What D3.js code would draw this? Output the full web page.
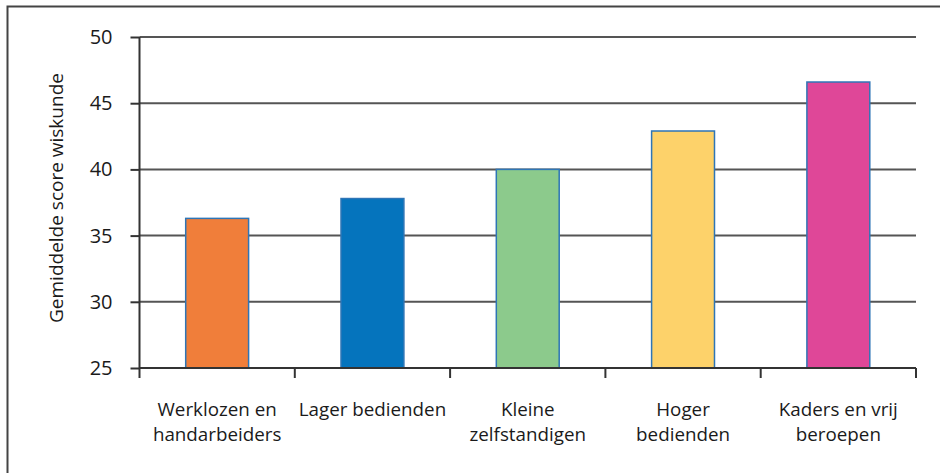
<!DOCTYPE html>
<html><head><meta charset="utf-8">
<script src="https://cdn.jsdelivr.net/npm/d3@7"></script>
<style>
html,body{margin:0;padding:0;background:#fff;}
svg{display:block;}
text{font-family:"Open Sans",sans-serif;fill:#1a1a1a;}
</style></head>
<body>
<svg id="c" width="940" height="473"></svg>
<script>
const categories = [["Werklozen en","handarbeiders"],["Lager bedienden"],["Kleine","zelfstandigen"],["Hoger","bedienden"],["Kaders en vrij","beroepen"]];
const values = [36.3, 37.8, 40.0, 42.9, 46.6];
const colors = ["#F07E3A","#0574BD","#8CCA8C","#FDD26A","#DF4798"];
const yTicks = [25,30,35,40,45,50];
const yLabel = "Gemiddelde score wiskunde";

const svg = d3.select("#c");
const m = {left:139.5, right:916, top:37, bottom:368};
const keys = categories.map(d=>d.join(" "));
const x = d3.scaleBand().domain(keys).range([m.left,m.right]).paddingInner(0.595).paddingOuter(0.2975);
const xt = d3.scaleBand().domain(keys).range([m.left,m.right]);
const y = d3.scaleLinear().domain([25,50]).range([m.bottom,m.top]);

// frame
svg.append("path").attr("d","M7.5,473 V6.5 H940").attr("fill","none").attr("stroke","#444").attr("stroke-width",2);

// gridlines
svg.append("g").selectAll("line").data(yTicks.slice(1)).join("line")
  .attr("x1",m.left).attr("x2",m.right).attr("y1",d=>y(d)).attr("y2",d=>y(d))
  .attr("stroke","#555").attr("stroke-width",2);

// bars
svg.append("g").selectAll("rect").data(values).join("rect")
  .attr("x",(d,i)=>x(keys[i])).attr("width",x.bandwidth())
  .attr("y",d=>y(d)).attr("height",d=>y(25)-y(d))
  .attr("fill",(d,i)=>colors[i]).attr("stroke","#2E75B6").attr("stroke-width",1.5);

// y axis
const ya = svg.append("g").attr("transform",`translate(${m.left},0)`)
  .call(d3.axisLeft(y).tickValues(yTicks).tickSize(9).tickPadding(18));
ya.select(".domain").attr("stroke","#333").attr("stroke-width",2).attr("d",`M0,${m.top}V${m.bottom}`);
ya.selectAll(".tick line").attr("stroke","#333").attr("stroke-width",2);
ya.selectAll(".tick text").style("font-size","20px").attr("fill","#1a1a1a").style("font-family","'Open Sans',sans-serif");

// x axis
const xa = svg.append("g").attr("transform",`translate(0,${m.bottom})`)
  .call(d3.axisBottom(xt).tickSize(0).tickFormat(""));
xa.select(".domain").attr("stroke","#333").attr("stroke-width",2).attr("d",`M${m.left},0H${m.right}`);
const bounds = [m.left].concat(keys.map(k=>xt(k)+xt.bandwidth()));
xa.selectAll("line.sep").data(bounds).join("line").attr("class","sep")
  .attr("x1",d=>d).attr("x2",d=>d).attr("y1",0).attr("y2",10)
  .attr("stroke","#333").attr("stroke-width",2);

// category labels
const lab = svg.append("g").selectAll("text").data(categories).join("text")
  .attr("text-anchor","middle").style("font-size","18.8px")
  .attr("transform",(d,i)=>`translate(${xt(keys[i])+xt.bandwidth()/2},0)`);
lab.selectAll("tspan").data(d=>d).join("tspan")
  .attr("x",0).attr("y",(d,j)=>416+j*25).text(d=>d);

// y label
svg.append("text").attr("transform",`translate(63,198) rotate(-90)`)
  .attr("text-anchor","middle").style("font-size","19px").text(yLabel);
</script>
</body></html>
